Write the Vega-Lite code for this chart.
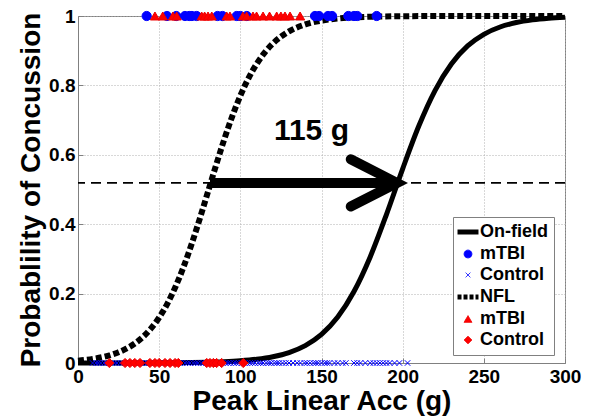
{
  "$schema": "https://vega.github.io/schema/vega-lite/v6.json",
  "autosize": "none",
  "width": 487,
  "height": 347,
  "padding": {"left": 78, "top": 16, "right": 27, "bottom": 54},
  "background": "white",
  "config": {
    "font": "Liberation Sans",
    "view": {"stroke": "#808080", "strokeWidth": 1},
    "axis": {
      "labelFont": "Liberation Sans", "labelFontWeight": "bold", "labelFontSize": 19, "labelColor": "black", "labelFlush": false,
      "titleFont": "Liberation Sans", "titleFontWeight": "bold", "titleFontSize": 28, "titleColor": "black",
      "domainColor": "#808080", "tickColor": "#808080", "tickSize": -5,
      "gridColor": "#b0b0b0", "gridDash": [1, 2], "gridWidth": 1
    },
    "legend": {
      "title": null, "orient": "none", "legendX": 375, "legendY": 201,
      "padding": 6, "rowPadding": 3, "fillColor": "white", "strokeColor": "#808080",
      "labelFont": "Liberation Sans", "labelFontWeight": "bold", "labelFontSize": 18, "labelColor": "black",
      "labelOffset": 3, "symbolOpacity": 1
    }
  },
  "datasets": {
    "onfield": [
      {"x": 0, "p": 0.00003}, {"x": 10, "p": 0.00005}, {"x": 20, "p": 0.00009}, {"x": 30, "p": 0.00016},
      {"x": 40, "p": 0.00026}, {"x": 50, "p": 0.00045}, {"x": 60, "p": 0.00076}, {"x": 70, "p": 0.00129},
      {"x": 80, "p": 0.00219}, {"x": 90, "p": 0.00371}, {"x": 100, "p": 0.0063}, {"x": 110, "p": 0.01066},
      {"x": 120, "p": 0.01799}, {"x": 130, "p": 0.0302}, {"x": 140, "p": 0.0502}, {"x": 150, "p": 0.0824},
      {"x": 160, "p": 0.1323}, {"x": 170, "p": 0.2059}, {"x": 180, "p": 0.3057}, {"x": 190, "p": 0.4279},
      {"x": 200, "p": 0.5597}, {"x": 210, "p": 0.6835}, {"x": 220, "p": 0.7858}, {"x": 230, "p": 0.8618},
      {"x": 240, "p": 0.9137}, {"x": 250, "p": 0.9473}, {"x": 260, "p": 0.9683}, {"x": 270, "p": 0.9811},
      {"x": 280, "p": 0.9888}, {"x": 290, "p": 0.9934}, {"x": 300, "p": 0.9961}
    ],
    "nfl": [
      {"x": 0, "p": 0.00676}, {"x": 5, "p": 0.00918}, {"x": 10, "p": 0.01248}, {"x": 15, "p": 0.01695},
      {"x": 20, "p": 0.02294}, {"x": 25, "p": 0.03105}, {"x": 30, "p": 0.04184}, {"x": 35, "p": 0.0562},
      {"x": 40, "p": 0.0751}, {"x": 45, "p": 0.0997}, {"x": 50, "p": 0.1311}, {"x": 55, "p": 0.1706},
      {"x": 60, "p": 0.2191}, {"x": 65, "p": 0.2767}, {"x": 70, "p": 0.3428}, {"x": 75, "p": 0.4156},
      {"x": 80, "p": 0.4923}, {"x": 85, "p": 0.5693}, {"x": 90, "p": 0.6431}, {"x": 95, "p": 0.7107},
      {"x": 100, "p": 0.7701}, {"x": 105, "p": 0.8204}, {"x": 110, "p": 0.8616}, {"x": 115, "p": 0.8946},
      {"x": 120, "p": 0.9205}, {"x": 130, "p": 0.9556}, {"x": 140, "p": 0.9756}, {"x": 150, "p": 0.9867},
      {"x": 160, "p": 0.9928}, {"x": 170, "p": 0.9961}, {"x": 180, "p": 0.9979}, {"x": 200, "p": 0.9994},
      {"x": 220, "p": 0.9998}, {"x": 250, "p": 1.0}, {"x": 300, "p": 1.0}
    ],
    "shaft": [{"x": 81.3, "p": 0.519}, {"x": 192, "p": 0.519}],
    "head": [{"x": 168, "p": 0.587, "o": 1}, {"x": 196.5, "p": 0.519, "o": 2}, {"x": 168, "p": 0.451, "o": 3}],
    "ref": [{"p": 0.519}],
    "note": [{"x": 143.8, "p": 0.643, "label": "115 g"}],
    "pts": [
      {"x": 9, "p": 0, "s": "3"}, {"x": 11, "p": 0, "s": "3"}, {"x": 12.5, "p": 0, "s": "3"}, {"x": 14, "p": 0, "s": "3"},
      {"x": 16, "p": 0, "s": "3"}, {"x": 17.5, "p": 0, "s": "3"}, {"x": 19, "p": 0, "s": "3"}, {"x": 21, "p": 0, "s": "3"},
      {"x": 22.5, "p": 0, "s": "3"}, {"x": 24, "p": 0, "s": "3"}, {"x": 26, "p": 0, "s": "3"}, {"x": 27.5, "p": 0, "s": "3"},
      {"x": 29, "p": 0, "s": "3"}, {"x": 31, "p": 0, "s": "3"}, {"x": 32.5, "p": 0, "s": "3"}, {"x": 34, "p": 0, "s": "3"},
      {"x": 36, "p": 0, "s": "3"}, {"x": 37.5, "p": 0, "s": "3"}, {"x": 39, "p": 0, "s": "3"}, {"x": 41, "p": 0, "s": "3"},
      {"x": 42.5, "p": 0, "s": "3"}, {"x": 44, "p": 0, "s": "3"}, {"x": 46, "p": 0, "s": "3"}, {"x": 47.5, "p": 0, "s": "3"},
      {"x": 49, "p": 0, "s": "3"}, {"x": 51, "p": 0, "s": "3"}, {"x": 52.5, "p": 0, "s": "3"}, {"x": 54, "p": 0, "s": "3"},
      {"x": 56, "p": 0, "s": "3"}, {"x": 57.5, "p": 0, "s": "3"}, {"x": 59, "p": 0, "s": "3"}, {"x": 61, "p": 0, "s": "3"},
      {"x": 62.5, "p": 0, "s": "3"}, {"x": 64, "p": 0, "s": "3"}, {"x": 66, "p": 0, "s": "3"}, {"x": 67.5, "p": 0, "s": "3"},
      {"x": 69, "p": 0, "s": "3"}, {"x": 71, "p": 0, "s": "3"}, {"x": 72.5, "p": 0, "s": "3"}, {"x": 74, "p": 0, "s": "3"},
      {"x": 76, "p": 0, "s": "3"}, {"x": 77.5, "p": 0, "s": "3"}, {"x": 79, "p": 0, "s": "3"}, {"x": 81, "p": 0, "s": "3"},
      {"x": 82.5, "p": 0, "s": "3"}, {"x": 84, "p": 0, "s": "3"}, {"x": 86, "p": 0, "s": "3"}, {"x": 87.5, "p": 0, "s": "3"},
      {"x": 89, "p": 0, "s": "3"}, {"x": 91, "p": 0, "s": "3"}, {"x": 92.5, "p": 0, "s": "3"}, {"x": 94, "p": 0, "s": "3"},
      {"x": 96, "p": 0, "s": "3"}, {"x": 97.5, "p": 0, "s": "3"}, {"x": 99, "p": 0, "s": "3"}, {"x": 101, "p": 0, "s": "3"},
      {"x": 102.5, "p": 0, "s": "3"}, {"x": 104, "p": 0, "s": "3"}, {"x": 106, "p": 0, "s": "3"}, {"x": 107.5, "p": 0, "s": "3"},
      {"x": 109, "p": 0, "s": "3"}, {"x": 111, "p": 0, "s": "3"}, {"x": 112.5, "p": 0, "s": "3"}, {"x": 114, "p": 0, "s": "3"},
      {"x": 116, "p": 0, "s": "3"}, {"x": 117.5, "p": 0, "s": "3"}, {"x": 119, "p": 0, "s": "3"}, {"x": 121, "p": 0, "s": "3"},
      {"x": 122.5, "p": 0, "s": "3"}, {"x": 124, "p": 0, "s": "3"}, {"x": 126, "p": 0, "s": "3"}, {"x": 128, "p": 0, "s": "3"},
      {"x": 130, "p": 0, "s": "3"}, {"x": 132.5, "p": 0, "s": "3"}, {"x": 135, "p": 0, "s": "3"}, {"x": 137, "p": 0, "s": "3"},
      {"x": 139.5, "p": 0, "s": "3"}, {"x": 141, "p": 0, "s": "3"}, {"x": 143, "p": 0, "s": "3"}, {"x": 145, "p": 0, "s": "3"},
      {"x": 146.5, "p": 0, "s": "3"}, {"x": 148, "p": 0, "s": "3"}, {"x": 150, "p": 0, "s": "3"}, {"x": 152, "p": 0, "s": "3"},
      {"x": 153.5, "p": 0, "s": "3"}, {"x": 155, "p": 0, "s": "3"}, {"x": 158, "p": 0, "s": "3"}, {"x": 160, "p": 0, "s": "3"},
      {"x": 163, "p": 0, "s": "3"}, {"x": 165, "p": 0, "s": "3"}, {"x": 170, "p": 0, "s": "3"}, {"x": 172, "p": 0, "s": "3"},
      {"x": 174, "p": 0, "s": "3"}, {"x": 177, "p": 0, "s": "3"}, {"x": 180, "p": 0, "s": "3"}, {"x": 182, "p": 0, "s": "3"},
      {"x": 184, "p": 0, "s": "3"}, {"x": 186, "p": 0, "s": "3"}, {"x": 188, "p": 0, "s": "3"}, {"x": 190, "p": 0, "s": "3"},
      {"x": 192, "p": 0, "s": "3"}, {"x": 195, "p": 0, "s": "3"}, {"x": 198, "p": 0, "s": "3"}, {"x": 203, "p": 0, "s": "3"},
      {"x": 19.3, "p": 0, "s": "6"}, {"x": 29, "p": 0, "s": "6"}, {"x": 32, "p": 0, "s": "6"}, {"x": 35, "p": 0, "s": "6"},
      {"x": 38.2, "p": 0, "s": "6"}, {"x": 44.3, "p": 0, "s": "6"}, {"x": 47.4, "p": 0, "s": "6"}, {"x": 50, "p": 0, "s": "6"},
      {"x": 53.6, "p": 0, "s": "6"}, {"x": 56.7, "p": 0, "s": "6"}, {"x": 59.8, "p": 0, "s": "6"}, {"x": 61.8, "p": 0, "s": "6"},
      {"x": 79.3, "p": 0, "s": "6"}, {"x": 81.3, "p": 0, "s": "6"}, {"x": 83.4, "p": 0, "s": "6"}, {"x": 85.4, "p": 0, "s": "6"},
      {"x": 88.5, "p": 0, "s": "6"}, {"x": 101.8, "p": 0, "s": "6"},
      {"x": 42.3, "p": 1, "s": "2"}, {"x": 54.8, "p": 1, "s": "2"}, {"x": 60.5, "p": 1, "s": "2"}, {"x": 65.9, "p": 1, "s": "2"},
      {"x": 68.5, "p": 1, "s": "2"}, {"x": 70.2, "p": 1, "s": "2"}, {"x": 73.1, "p": 1, "s": "2"}, {"x": 86, "p": 1, "s": "2"},
      {"x": 89, "p": 1, "s": "2"}, {"x": 97.8, "p": 1, "s": "2"}, {"x": 100, "p": 1, "s": "2"}, {"x": 104, "p": 1, "s": "2"},
      {"x": 146, "p": 1, "s": "2"}, {"x": 148.5, "p": 1, "s": "2"}, {"x": 154, "p": 1, "s": "2"}, {"x": 156.5, "p": 1, "s": "2"},
      {"x": 166.5, "p": 1, "s": "2"}, {"x": 170, "p": 1, "s": "2"}, {"x": 172, "p": 1, "s": "2"}, {"x": 184, "p": 1, "s": "2"},
      {"x": 47.4, "p": 1, "s": "5"}, {"x": 52.2, "p": 1, "s": "5"}, {"x": 58.5, "p": 1, "s": "5"}, {"x": 60.8, "p": 1, "s": "5"},
      {"x": 76.2, "p": 1, "s": "5"}, {"x": 78, "p": 1, "s": "5"}, {"x": 80.1, "p": 1, "s": "5"}, {"x": 82.4, "p": 1, "s": "5"},
      {"x": 91.6, "p": 1, "s": "5"}, {"x": 93.6, "p": 1, "s": "5"}, {"x": 101.6, "p": 1, "s": "5"}, {"x": 103.9, "p": 1, "s": "5"},
      {"x": 107.8, "p": 1, "s": "5"}, {"x": 110, "p": 1, "s": "5"}, {"x": 114, "p": 1, "s": "5"}, {"x": 118, "p": 1, "s": "5"},
      {"x": 122.4, "p": 1, "s": "5"}, {"x": 125, "p": 1, "s": "5"}, {"x": 127.5, "p": 1, "s": "5"}, {"x": 130.6, "p": 1, "s": "5"},
      {"x": 136.8, "p": 1, "s": "5"}
    ]
  },
  "encoding": {
    "x": {
      "field": "x", "type": "quantitative",
      "scale": {"domain": [0, 300], "nice": false, "zero": false},
      "axis": {"title": "Peak Linear Acc (g)", "values": [0, 50, 100, 150, 200, 250, 300], "labelPadding": 9, "titlePadding": 1, "grid": true}
    },
    "y": {
      "field": "p", "type": "quantitative",
      "scale": {"domain": [0, 1], "nice": false},
      "axis": {"title": "Probablility of Concussion", "values": [0, 0.2, 0.4, 0.6, 0.8, 1], "format": "~g", "labelPadding": 8, "titlePadding": 3, "grid": true}
    }
  },
  "layer": [
    {
      "data": {"name": "ref"},
      "mark": {"type": "rule", "color": "black", "strokeWidth": 1.8, "strokeDash": [10, 6]},
      "encoding": {"x": null, "y": {"field": "p", "type": "quantitative"}}
    },
    {
      "data": {"name": "onfield"},
      "mark": {"type": "line", "strokeWidth": 5, "interpolate": "monotone", "color": "black"},
      "encoding": {}
    },
    {
      "data": {"name": "nfl"},
      "mark": {"type": "line", "strokeWidth": 6, "strokeDash": [6, 3], "interpolate": "monotone", "color": "black"},
      "encoding": {}
    },
    {
      "data": {"name": "shaft"},
      "mark": {"type": "line", "color": "black", "strokeWidth": 10, "strokeCap": "butt"},
      "encoding": {}
    },
    {
      "data": {"name": "head"},
      "mark": {"type": "line", "color": "black", "strokeWidth": 10, "strokeCap": "round", "strokeJoin": "miter", "strokeMiterLimit": 10},
      "encoding": {"order": {"field": "o", "type": "quantitative"}}
    },
    {
      "data": {"name": "note"},
      "mark": {"type": "text", "font": "Liberation Sans", "fontWeight": "bold", "fontSize": 30, "align": "center", "baseline": "alphabetic", "color": "black"},
      "encoding": {"text": {"field": "label"}}
    },
    {
      "data": {"name": "pts"},
      "mark": {"type": "point", "opacity": 1, "strokeWidth": 1, "size": 85},
      "encoding": {
        "order": {"field": "s", "type": "ordinal"},
        "stroke": {"field": "s", "type": "nominal",
          "scale": {"domain": ["1", "2", "3", "4", "5", "6"], "range": ["black", "#0000ff", "#0000ff", "black", "#ee0000", "#ee0000"]},
          "legend": {
            "title": null,
            "labelExpr": "datum.value == '1' ? 'On-field' : datum.value == '4' ? 'NFL' : (datum.value == '2' || datum.value == '5') ? 'mTBI' : 'Control'",
            "encode": {
              "symbols": {
                "update": {
                  "size": {"signal": "datum.value == '1' || datum.value == '4' ? 440 : 60"},
                  "strokeWidth": {"signal": "datum.value == '1' || datum.value == '4' ? 5 : 1"},
                  "strokeDash": {"signal": "datum.value == '4' ? [4, 2] : [1, 0]"},
                  "fill": {"signal": "datum.value == '2' ? '#0000ff' : (datum.value == '5' || datum.value == '6') ? '#ff0000' : 'transparent'"},
                  "stroke": {"signal": "datum.value == '1' || datum.value == '4' ? 'black' : datum.value == '2' ? '#0000ff' : datum.value == '3' ? '#7777ff' : '#aa0000'"},
                  "opacity": {"value": 1}
                }
              }
            }
          }},
        "fill": {"field": "s", "type": "nominal",
          "scale": {"domain": ["1", "2", "3", "4", "5", "6"], "range": ["transparent", "#0000ff", "transparent", "transparent", "#ff0000", "#ff0000"]},
          "legend": {
            "title": null,
            "labelExpr": "datum.value == '1' ? 'On-field' : datum.value == '4' ? 'NFL' : (datum.value == '2' || datum.value == '5') ? 'mTBI' : 'Control'",
            "encode": {
              "symbols": {
                "update": {
                  "size": {"signal": "datum.value == '1' || datum.value == '4' ? 440 : 60"},
                  "strokeWidth": {"signal": "datum.value == '1' || datum.value == '4' ? 5 : 1"},
                  "strokeDash": {"signal": "datum.value == '4' ? [4, 2] : [1, 0]"},
                  "fill": {"signal": "datum.value == '2' ? '#0000ff' : (datum.value == '5' || datum.value == '6') ? '#ff0000' : 'transparent'"},
                  "stroke": {"signal": "datum.value == '1' || datum.value == '4' ? 'black' : datum.value == '2' ? '#0000ff' : datum.value == '3' ? '#7777ff' : '#aa0000'"},
                  "opacity": {"value": 1}
                }
              }
            }
          }},
        "shape": {"field": "s", "type": "nominal",
          "scale": {"domain": ["1", "2", "3", "4", "5", "6"], "range": ["stroke", "circle", "M-0.6,-0.6L0.6,0.6M-0.6,0.6L0.6,-0.6", "stroke", "triangle-up", "diamond"]},
          "legend": {
            "title": null,
            "labelExpr": "datum.value == '1' ? 'On-field' : datum.value == '4' ? 'NFL' : (datum.value == '2' || datum.value == '5') ? 'mTBI' : 'Control'",
            "encode": {
              "symbols": {
                "update": {
                  "size": {"signal": "datum.value == '1' || datum.value == '4' ? 440 : 60"},
                  "strokeWidth": {"signal": "datum.value == '1' || datum.value == '4' ? 5 : 1"},
                  "strokeDash": {"signal": "datum.value == '4' ? [4, 2] : [1, 0]"},
                  "fill": {"signal": "datum.value == '2' ? '#0000ff' : (datum.value == '5' || datum.value == '6') ? '#ff0000' : 'transparent'"},
                  "stroke": {"signal": "datum.value == '1' || datum.value == '4' ? 'black' : datum.value == '2' ? '#0000ff' : datum.value == '3' ? '#7777ff' : '#aa0000'"},
                  "opacity": {"value": 1}
                }
              }
            }
          }
        }
      }
    }
  ]
}
